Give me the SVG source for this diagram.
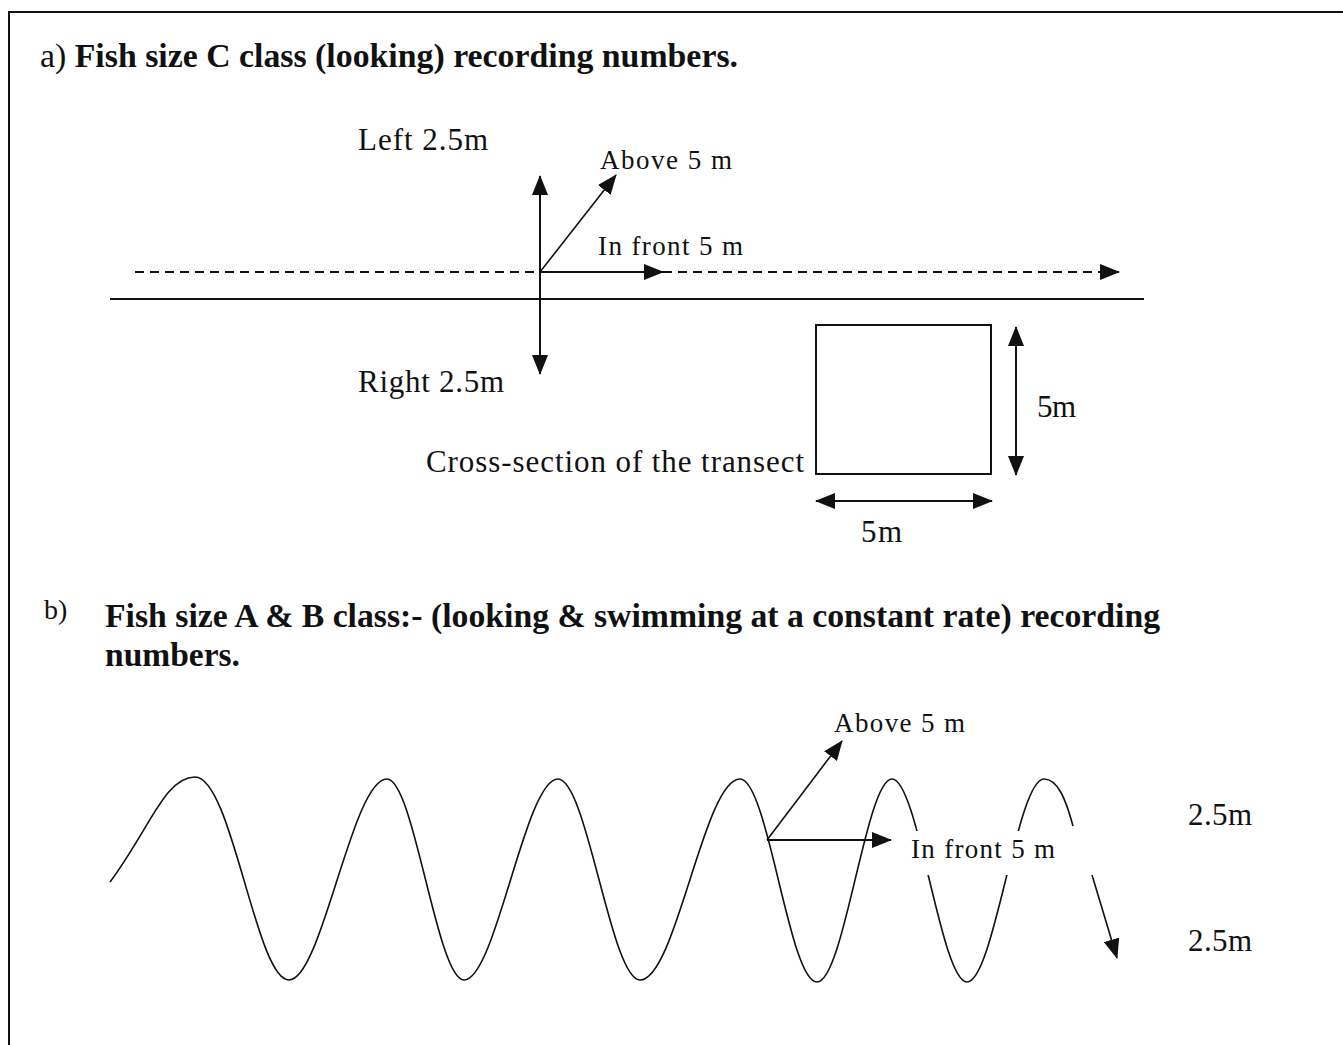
<svg xmlns="http://www.w3.org/2000/svg" width="1343" height="1045" viewBox="0 0 1343 1045">
<style>
.t{font-family:"Liberation Serif","Times New Roman",serif;fill:#111}
.h{font-size:34px;font-weight:bold}
.r{font-weight:normal}
.l{font-size:31px}
.s{font-size:27px}
.ln{stroke:#111;stroke-width:2;fill:none}
.th{stroke:#111;stroke-width:1.6;fill:none}
.dash{stroke-dasharray:9 6}
</style>
<defs>
<marker id="ah" viewBox="0 0 20 16" refX="19" refY="8" markerWidth="20" markerHeight="16" markerUnits="userSpaceOnUse" orient="auto-start-reverse">
<path d="M0,0 L20,8 L0,16 z" fill="#111"/>
</marker>
</defs>
<rect x="9" y="12" width="1400" height="1100" fill="#fff" stroke="#111" stroke-width="2"/>

<g id="title-a">
<text class="t h" x="40" y="67" textLength="698" lengthAdjust="spacingAndGlyphs"><tspan class="r">a)</tspan> Fish size C class (looking) recording numbers.</text>
</g>

<g id="connectors">
<line class="ln" x1="110" y1="299" x2="1144" y2="299"/>
<line class="ln dash" x1="135" y1="272" x2="540" y2="272"/>
<line class="ln" x1="540" y1="272" x2="663" y2="272" marker-end="url(#ah)"/>
<line class="ln dash" x1="663" y1="272" x2="1119" y2="272" marker-end="url(#ah)"/>
<line class="ln" x1="540" y1="176" x2="540" y2="374" marker-start="url(#ah)" marker-end="url(#ah)"/>
<line class="th" x1="540" y1="272" x2="616" y2="175" marker-end="url(#ah)"/>
<line class="ln" x1="1016" y1="327" x2="1016" y2="475" marker-start="url(#ah)" marker-end="url(#ah)"/>
<line class="ln" x1="816" y1="501" x2="992" y2="501" marker-start="url(#ah)" marker-end="url(#ah)"/>
<line class="th" x1="767" y1="840" x2="842" y2="741" marker-end="url(#ah)"/>
<line class="ln" x1="767" y1="840" x2="891" y2="840" marker-end="url(#ah)"/>
<line class="th" x1="1092" y1="875" x2="1117" y2="958" marker-end="url(#ah)"/>
</g>

<g id="cross-section">
<rect x="816" y="325" width="175" height="149" fill="none" stroke="#111" stroke-width="2"/>
</g>

<g id="labels-a">
<text class="t l" x="358" y="150" textLength="130">Left 2.5m</text>
<text class="t s" x="600" y="169" textLength="132">Above 5 m</text>
<text class="t s" x="598" y="255" textLength="145">In front 5 m</text>
<text class="t l" x="358" y="392" textLength="146">Right 2.5m</text>
<text class="t l" x="426" y="472" textLength="378">Cross-section of the transect</text>
<text class="t l" x="1037" y="417" textLength="39">5m</text>
<text class="t l" x="861" y="542" textLength="41">5m</text>
</g>

<g id="title-b">
<text class="t" x="44" y="619" font-size="28">b)</text>
<text class="t h" x="105" y="627" textLength="1055" lengthAdjust="spacingAndGlyphs">Fish size A &amp; B class:- (looking &amp; swimming at a constant rate) recording</text>
<text class="t h" x="105" y="666" textLength="135" lengthAdjust="spacingAndGlyphs">numbers.</text>
</g>

<g id="wave">
<path class="th" d="M110,882 C150,828 165,777 195,777 C232,777 256,980 289,980 C322,980 352,779 387,779 C414,779 437,980 464,980 C496,980 525,779 558,779 C587,779 611,980 640,980 C676,980 704,779 740,779 C768,779 789,982 817,982 C844,982 866,779 892,779 C918,779 941,982 967,982 C994,982 1017,779 1044,779 C1058,779 1066,800 1073,826"/>
<rect x="900" y="831" width="130" height="44" fill="#fff"/>
</g>

<g id="labels-b">
<text class="t s" x="834" y="732" textLength="131">Above 5 m</text>
<text class="t s" x="911" y="858" textLength="144">In front 5 m</text>
<text class="t l" x="1188" y="825" textLength="64">2.5m</text>
<text class="t l" x="1188" y="951" textLength="64">2.5m</text>
</g>
</svg>
